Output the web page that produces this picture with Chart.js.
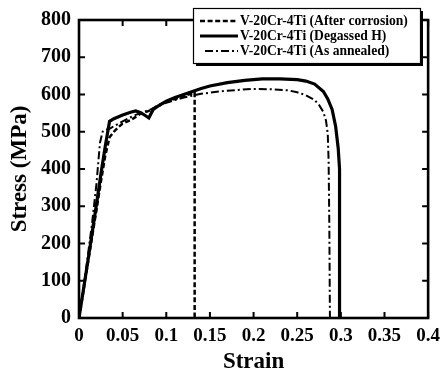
<!DOCTYPE html>
<html>
<head>
<meta charset="utf-8">
<script src="https://cdn.jsdelivr.net/npm/chart.js@4.4.1/dist/chart.umd.min.js"></script>
<style>
html,body{margin:0;padding:0;background:#fff;}
#wrap{width:447px;height:376px;position:relative;}
</style>
</head>
<body>
<div id="wrap"><canvas id="c" width="447" height="376"></canvas></div>
<script>
// ---- data ----
const seriesNames = [
  'V-20Cr-4Ti (After corrosion)',
  'V-20Cr-4Ti (Degassed H)',
  'V-20Cr-4Ti (As annealed)'
];
const corrodedStrain = [0,0.005,0.01,0.015,0.02,0.025,0.03,0.035,0.04,0.045,0.05,0.06,0.065,0.07,0.075,0.08,0.085,0.09,0.1,0.11,0.12,0.13,0.1325,0.1325];
const corrodedStress = [0,72,145,218,290,365,435,485,500,512,522,532,540,548,552,556,562,570,580,588,596,603,606,0];

const degassedStrain = [0,0.005,0.01,0.015,0.02,0.025,0.03,0.035,0.04,0.05,0.06,0.065,0.07,0.075,0.08,0.085,0.09,0.1,0.11,0.12,0.13,0.14,0.15,0.17,0.19,0.21,0.23,0.25,0.26,0.27,0.28,0.285,0.29,0.294,0.297,0.2985,0.2985];
const degassedStress = [0,75,150,228,305,385,460,528,535,545,553,556,552,545,537,560,568,582,592,600,608,616,623,632,638,642,642,640,636,628,608,588,560,515,455,400,0];

const annealedStrain = [0,0.005,0.01,0.015,0.02,0.024,0.027,0.03,0.035,0.04,0.05,0.06,0.07,0.08,0.09,0.1,0.12,0.14,0.16,0.18,0.2,0.22,0.24,0.25,0.26,0.27,0.275,0.28,0.283,0.285,0.286,0.2868,0.2875];
const annealedStress = [0,80,165,255,360,470,500,505,508,515,528,540,550,558,568,578,592,602,608,612,615,614,611,606,598,585,572,553,530,495,420,250,0];

const xTickLabels = ['0','0.05','0.1','0.15','0.2','0.25','0.3','0.35','0.4'];
const yTickLabels = ['0','100','200','300','400','500','600','700','800'];

function pts(xs, ys){ return xs.map((x,i)=>({x:x,y:ys[i]})); }

const FONT = '"Liberation Serif","Times New Roman",serif';

const boxPlugin = {
  id:'box',
  afterDatasetsDraw(chart){
    const ctx = chart.ctx, a = chart.chartArea;
    const xs = chart.scales.x, ys = chart.scales.y;
    ctx.save();
    ctx.strokeStyle = '#000';
    ctx.lineWidth = 2.6;
    ctx.lineCap = 'butt';
    ctx.strokeRect(a.left, a.top, a.right - a.left, a.bottom - a.top);
    ctx.lineWidth = 2;
    const tl = 6;
    xs.ticks.forEach(t=>{
      const px = xs.getPixelForValue(t.value);
      ctx.beginPath();
      ctx.moveTo(px, a.bottom); ctx.lineTo(px, a.bottom - tl);
      ctx.moveTo(px, a.top); ctx.lineTo(px, a.top + tl);
      ctx.stroke();
    });
    ys.ticks.forEach(t=>{
      const py = ys.getPixelForValue(t.value);
      ctx.beginPath();
      ctx.moveTo(a.left, py); ctx.lineTo(a.left + tl, py);
      ctx.moveTo(a.right, py); ctx.lineTo(a.right - tl, py);
      ctx.stroke();
    });
    // legend box
    const bx = 193, by = 8, bw = 227, bh = 55;
    ctx.fillStyle = '#000';
    ctx.fillRect(bx + 3, by + 3, bw, bh);
    ctx.fillStyle = '#fff';
    ctx.fillRect(bx, by, bw, bh);
    ctx.lineWidth = 1.2;
    ctx.strokeStyle = '#000';
    ctx.strokeRect(bx + 0.5, by + 0.5, bw, bh);
    ctx.font = 'bold 13.6px ' + FONT;
    ctx.textBaseline = 'middle';
    ctx.textAlign = 'left';
    const rows = [21, 36, 51];
    const starts = [200, 200, 205];
    chart.data.datasets.forEach((ds, i)=>{
      const y = rows[i];
      ctx.save();
      ctx.lineWidth = ds.borderWidth;
      ctx.setLineDash(ds.borderDash || []);
      ctx.beginPath();
      ctx.moveTo(starts[i], y); ctx.lineTo(238, y);
      ctx.stroke();
      ctx.restore();
      ctx.fillStyle = '#000';
      ctx.fillText(ds.label, 240, y + 0.5);
    });
    ctx.restore();
  }
};

new Chart(document.getElementById('c'), {
  type: 'scatter',
  data: {
    datasets: [
      {label: seriesNames[0], data: pts(corrodedStrain, corrodedStress), showLine:true, borderColor:'#000', borderWidth:2.5, borderDash:[5,2.6], pointRadius:0, tension:0},
      {label: seriesNames[1], data: pts(degassedStrain, degassedStress), showLine:true, borderColor:'#000', borderWidth:3.2, pointRadius:0, tension:0},
      {label: seriesNames[2], data: pts(annealedStrain, annealedStress), showLine:true, borderColor:'#000', borderWidth:2, borderDash:[8,3,2,3], pointRadius:0, tension:0}
    ]
  },
  options: {
    responsive:false,
    animation:false,
    devicePixelRatio:1,
    layout:{padding:{top:19, right:13, left:0, bottom:0}},
    plugins:{legend:{display:false}, tooltip:{enabled:false}},
    scales:{
      x:{
        type:'linear', min:0, max:0.4,
        ticks:{stepSize:0.05, padding:7, color:'#000', maxRotation:0, autoSkip:false,
          font:{family:FONT, weight:'bold', size:19},
          callback:(v,i)=>xTickLabels[i]},
        grid:{display:false, drawTicks:false},
        border:{display:false},
        title:{display:true, text:'Strain', color:'#000', font:{family:FONT, weight:'bold', size:23, lineHeight:1}, padding:{top:0,bottom:2}},
        afterFit:(s)=>{s.height = 58;}
      },
      y:{
        type:'linear', min:0, max:800,
        ticks:{stepSize:100, padding:8, color:'#000',
          font:{family:FONT, weight:'bold', size:20},
          callback:(v,i)=>yTickLabels[i]},
        grid:{display:false, drawTicks:false},
        border:{display:false},
        title:{display:true, text:'Stress (MPa)', color:'#000', font:{family:FONT, weight:'bold', size:23, lineHeight:1}, padding:{top:9,bottom:0}},
        afterFit:(s)=>{s.width = 79;}
      }
    }
  },
  plugins:[boxPlugin]
});
</script>
</body>
</html>
